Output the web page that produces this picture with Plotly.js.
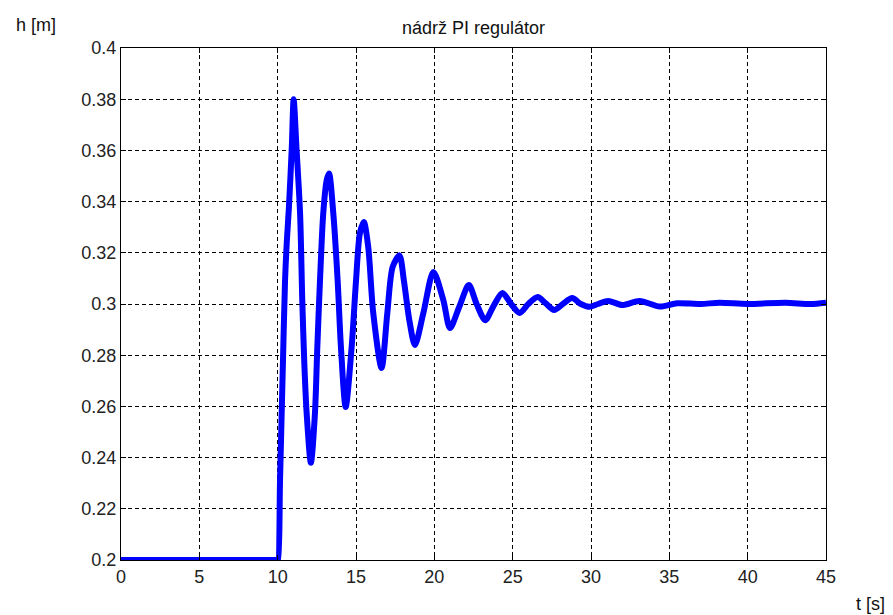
<!DOCTYPE html>
<html>
<head>
<meta charset="utf-8">
<script src="https://cdn.plot.ly/plotly-3.0.1.min.js"></script>
<style>html,body{margin:0;padding:0;background:#fff;}#chart{width:893px;height:615px;}</style>
</head>
<body>
<div id="chart"></div>
<script>
// Time samples [s]
const timeS = [0, 10, 10.03, 10.15, 10.34, 10.47, 10.58, 10.72, 10.9, 11.02,
  11.2, 11.43, 11.57, 11.7, 11.85, 12.12,
  12.38, 12.53, 12.7, 12.91, 13.13, 13.28,
  13.55, 13.83, 14.04, 14.34,
  14.72, 15.0, 15.25, 15.5,
  15.78, 16.1, 16.63,
  17.0, 17.34, 17.77,
  18.06, 18.4, 18.76,
  19.3, 19.94,
  20.57, 21.0,
  21.6, 22.2,
  22.7, 23.25,
  23.8, 24.35,
  24.9, 25.45,
  26.0, 26.6,
  27.1, 27.65,
  28.2, 28.8,
  29.35, 29.9,
  30.45, 31.1,
  32.0, 33.1, 34.4, 35.5, 37.0, 38.2, 40.0, 42.4, 44.0, 45.0];
// Water level h [m]
const levelM = [0.2, 0.2, 0.2, 0.231, 0.278, 0.309, 0.324, 0.338, 0.361, 0.380,
  0.361, 0.3355, 0.3016, 0.277, 0.2574, 0.238,
  0.2574, 0.283, 0.309, 0.3355, 0.3484, 0.351,
  0.3355, 0.309, 0.283, 0.2598,
  0.283, 0.309, 0.3277, 0.332,
  0.3223, 0.2965, 0.275,
  0.2965, 0.3145, 0.319,
  0.309, 0.2938, 0.284,
  0.2965, 0.3125,
  0.3016, 0.2906,
  0.299, 0.3074,
  0.300, 0.2937,
  0.2995, 0.3043,
  0.300, 0.2965,
  0.300, 0.3027,
  0.3003, 0.2977,
  0.300, 0.3023,
  0.300, 0.2989,
  0.300, 0.3012,
  0.2996, 0.3012, 0.2990, 0.3003, 0.300, 0.3005, 0.300, 0.3005, 0.300, 0.3005];

const xTicks = [0, 5, 10, 15, 20, 25, 30, 35, 40, 45];
const yTicks = [0.2, 0.22, 0.24, 0.26, 0.28, 0.3, 0.32, 0.34, 0.36, 0.38, 0.4];
const yTickText = ['0.2', '0.22', '0.24', '0.26', '0.28', '0.3', '0.32', '0.34', '0.36', '0.38', '0.4'];

const titleText = 'nádrž PI regulátor';
const xLabel = 't [s]';
const yLabel = 'h [m]';

const FONT = 'Liberation Sans, Arial, sans-serif';

const trace = {
  x: timeS, y: levelM, type: 'scatter', mode: 'lines',
  line: {color: '#0000ff', width: 6, shape: 'spline', smoothing: 0.8},
  hoverinfo: 'skip'
};

const axisCommon = {
  showline: true, linecolor: '#000', linewidth: 1, mirror: 'ticks',
  ticks: 'inside', ticklen: 5, tickcolor: '#000', tickwidth: 1,
  showgrid: true, gridcolor: '#000', gridwidth: 1, griddash: '4px,3px',
  zeroline: false, tickfont: {family: FONT, size: 18, color: '#222'}
};

const layout = {
  width: 893, height: 615,
  margin: {l: 121, r: 67, t: 48, b: 55},
  paper_bgcolor: '#fff', plot_bgcolor: '#fff',
  showlegend: false,
  title: {text: titleText, font: {family: FONT, size: 18, color: '#111'},
          x: 0.5, xref: 'paper', y: 0.955, yref: 'container', xanchor: 'center', yanchor: 'middle'},
  xaxis: Object.assign({}, axisCommon, {range: [0, 45], tickvals: xTicks, ticktext: xTicks.map(String)}),
  yaxis: Object.assign({}, axisCommon, {range: [0.2, 0.4], tickvals: yTicks, ticktext: yTickText}),
  annotations: [
    {text: yLabel, xref: 'paper', yref: 'paper', x: -0.152, y: 1.045, xanchor: 'left', yanchor: 'middle',
     showarrow: false, font: {family: FONT, size: 18, color: '#111'}},
    {text: xLabel, xref: 'paper', yref: 'paper', x: 1.087, y: -0.086, xanchor: 'right', yanchor: 'middle',
     showarrow: false, font: {family: FONT, size: 18, color: '#111'}}
  ]
};

Plotly.newPlot('chart', [trace], layout, {staticPlot: true, displayModeBar: false});
</script>
</body>
</html>
